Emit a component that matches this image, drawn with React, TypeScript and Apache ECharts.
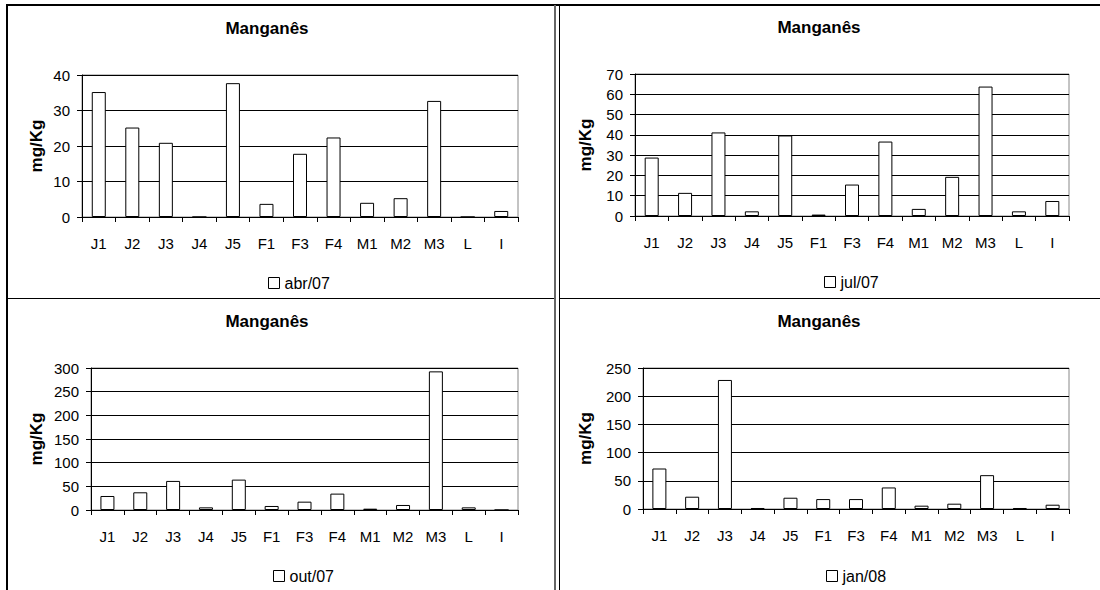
import React, { useEffect, useRef } from 'react';
import * as echarts from 'echarts';

const categories = ['J1', 'J2', 'J3', 'J4', 'J5', 'F1', 'F3', 'F4', 'M1', 'M2', 'M3', 'L', 'I'];
const abr07 = [35.2, 25.2, 20.9, 0, 37.7, 3.7, 17.8, 22.4, 4.0, 5.3, 32.7, 0, 1.7];
const jul07 = [28.8, 11.4, 41.2, 2.3, 39.7, 0.7, 15.5, 36.7, 3.5, 19.3, 63.8, 2.3, 7.4];
const out07 = [29.6, 37.4, 61.4, 5.6, 64.2, 8.5, 17.6, 34.6, 2.8, 10.6, 292.9, 5.6, 0];
const jan08 = [71.8, 21.8, 228.8, 1.8, 20, 17.6, 17.6, 38.2, 5.9, 9.4, 60, 1.8, 7.6];
const seriesNames = ['abr/07', 'jul/07', 'out/07', 'jan/08'];
const yMax = [40, 70, 300, 250];
const yInterval = [10, 10, 50, 50];
const titleText = 'Manganês';
const yAxisName = 'mg/Kg';

const FONT = '"Liberation Sans", Arial, sans-serif';

// layout of the four panels
const panels = [
  { grid: { left: 82, top: 75, width: 436, height: 142 }, titleX: 267, titleY: 28, legendX: 263, legendY: 270, nameGap: 37 },
  { grid: { left: 635, top: 74, width: 434, height: 142 }, titleX: 819, titleY: 27, legendX: 819, legendY: 269, nameGap: 41 },
  { grid: { left: 91, top: 368, width: 427, height: 142 }, titleX: 267, titleY: 321, legendX: 268, legendY: 563, nameGap: 46 },
  { grid: { left: 643, top: 368, width: 426, height: 141 }, titleX: 819, titleY: 321, legendX: 821, legendY: 563, nameGap: 49 },
];

export default function App() {
  const ref = useRef<HTMLDivElement>(null);
  useEffect(() => {
    if (!ref.current) return;
    const chart = echarts.init(ref.current, undefined, { renderer: 'svg' });
    const datasets = [abr07, jul07, out07, jan08];
    const option: any = {
      animation: false,
      backgroundColor: '#ffffff',
      textStyle: { fontFamily: FONT },
      grid: panels.map((p) => ({
        ...p.grid,
        show: true,
        borderColor: '#888888',
        borderWidth: 1,
        backgroundColor: 'transparent',
      })),
      legend: panels.map((p, i) => ({
        left: p.legendX,
        top: p.legendY,
        data: [seriesNames[i]],
        selectedMode: false,
        icon: 'rect',
        itemWidth: 11,
        itemHeight: 11,
        itemGap: 6,
        itemStyle: { color: '#ffffff', borderColor: '#000', borderWidth: 1 },
        textStyle: { fontFamily: FONT, fontSize: 16, color: '#000' },
      })),
      xAxis: panels.map((p, i) => ({
        type: 'category',
        gridIndex: i,
        data: categories,
        boundaryGap: true,
        axisLine: { lineStyle: { color: '#000', width: 1 } },
        axisTick: { show: true, length: 5, alignWithLabel: false, lineStyle: { color: '#000' } },
        axisLabel: { interval: 0, color: '#000', fontSize: 15, fontFamily: FONT, margin: 19 },
        splitLine: { show: false },
      })),
      yAxis: panels.map((p, i) => ({
        type: 'value',
        gridIndex: i,
        min: 0,
        max: yMax[i],
        interval: yInterval[i],
        name: yAxisName,
        nameLocation: 'middle',
        nameRotate: 90,
        nameGap: p.nameGap,
        nameTextStyle: { fontFamily: FONT, fontSize: 17, fontWeight: 'bold', color: '#000' },
        axisLine: { show: true, lineStyle: { color: '#000', width: 1 } },
        axisTick: { show: true, length: 5, lineStyle: { color: '#000' } },
        axisLabel: { color: '#000', fontSize: 15, fontFamily: FONT, margin: 12 },
        splitLine: { show: true, lineStyle: { color: '#000', width: 1 } },
      })),
      series: datasets.map((d, i) => ({
        type: 'bar',
        name: seriesNames[i],
        xAxisIndex: i,
        yAxisIndex: i,
        data: d,
        barWidth: 14,
        itemStyle: { color: '#ffffff', borderColor: '#000', borderWidth: 1 },
      })),
      graphic: [
        ...panels.map((p) => ({
          type: 'text',
          x: p.titleX,
          y: p.titleY,
          style: {
            text: titleText,
            font: `bold 17px ${FONT}`,
            fill: '#000',
            textAlign: 'center',
            textVerticalAlign: 'middle',
          },
        })),
        { type: 'line', shape: { x1: 6, y1: 5, x2: 1100, y2: 5 }, style: { stroke: '#000', lineWidth: 2 } },
        { type: 'line', shape: { x1: 7, y1: 4, x2: 7, y2: 590 }, style: { stroke: '#000', lineWidth: 2 } },
        { type: 'line', shape: { x1: 7, y1: 298.5, x2: 555, y2: 298.5 }, style: { stroke: '#000', lineWidth: 1 } },
        { type: 'line', shape: { x1: 559, y1: 298.5, x2: 1100, y2: 298.5 }, style: { stroke: '#000', lineWidth: 1 } },
        { type: 'line', shape: { x1: 555, y1: 5, x2: 555, y2: 590 }, style: { stroke: '#666', lineWidth: 2 } },
        { type: 'line', shape: { x1: 559.5, y1: 5, x2: 559.5, y2: 590 }, style: { stroke: '#000', lineWidth: 1 } },
      ],
    };
    chart.setOption(option);
    return () => chart.dispose();
  }, []);
  return (
    <div
      ref={ref}
      style={{ position: 'absolute', left: 0, top: 0, width: 1100, height: 590, background: '#fff' }}
    />
  );
}
